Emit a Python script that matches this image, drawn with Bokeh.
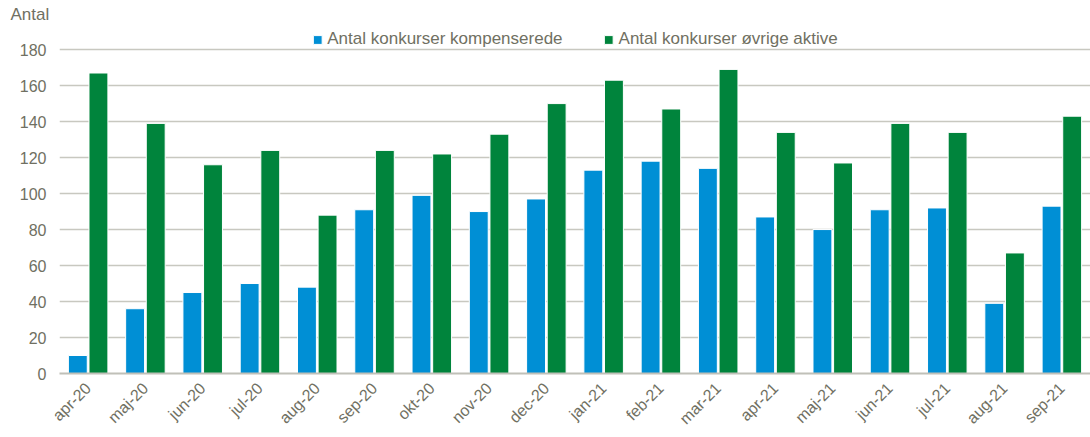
from bokeh.plotting import figure
from bokeh.models import ColumnDataSource, FactorRange, FixedTicker, Legend, LegendItem
from bokeh.transform import dodge
from bokeh.embed import file_html
from bokeh.resources import INLINE
import math

months = ["apr-20", "maj-20", "jun-20", "jul-20", "aug-20", "sep-20", "okt-20", "nov-20", "dec-20",
          "jan-21", "feb-21", "mar-21", "apr-21", "maj-21", "jun-21", "jul-21", "aug-21", "sep-21"]
kompenserede = [10, 36, 45, 50, 48, 91, 99, 90, 97, 113, 118, 114, 87, 80, 91, 92, 39, 93]
oevrige = [167, 139, 116, 124, 88, 124, 122, 133, 150, 163, 147, 169, 134, 117, 139, 134, 67, 143]
y_ticks = [0, 20, 40, 60, 80, 100, 120, 140, 160, 180]
series_names = ["Antal konkurser kompenserede", "Antal konkurser øvrige aktive"]
y_title = "Antal"

FONT = "Liberation Sans"
TXT = "#707062"
BLUE = "#008FD5"
GREEN = "#00843C"

src = ColumnDataSource(dict(m=months, a=kompenserede, b=oevrige))

p = figure(width=1090, height=437, x_range=FactorRange(*months, range_padding=0),
           y_range=(0, 193.4), output_backend="svg", toolbar_location=None,
           min_border_left=59, min_border_right=0, min_border_top=0, min_border_bottom=64)
p.outline_line_color = None
p.background_fill_color = "white"

p.title.text = y_title
p.title.align = "left"
p.title.offset = -49
p.title.text_font = FONT
p.title.text_font_size = "17px"
p.title.text_font_style = "normal"
p.title.text_color = TXT
p.title.standoff = 4

r1 = p.vbar(x=dodge("m", -0.18, range=p.x_range), top="a", width=0.33, source=src,
            fill_color=BLUE, line_color="white", line_width=1)
r2 = p.vbar(x=dodge("m", 0.18, range=p.x_range), top="b", width=0.33, source=src,
            fill_color=GREEN, line_color="white", line_width=1)

p.xgrid.grid_line_color = None
p.ygrid.grid_line_color = "#c8c8c0"
p.ygrid.grid_line_width = 1.5
p.ygrid.ticker = FixedTicker(ticks=y_ticks)

p.yaxis.ticker = FixedTicker(ticks=y_ticks)
p.yaxis.axis_line_color = None
p.yaxis.major_tick_line_color = None
p.yaxis.minor_tick_line_color = None
p.yaxis.major_tick_out = 0
p.yaxis.major_label_text_font = FONT
p.yaxis.major_label_text_font_size = "16px"
p.yaxis.major_label_text_color = TXT
p.yaxis.major_label_standoff = 13

p.xaxis.axis_line_color = "#c0c0b8"
p.xaxis.axis_line_width = 2
p.xaxis.major_tick_line_color = None
p.xaxis.minor_tick_line_color = None
p.xaxis.major_label_orientation = math.pi / 4
p.xaxis.major_label_text_font = FONT
p.xaxis.major_label_text_font_size = "16px"
p.xaxis.major_label_text_color = TXT
p.xaxis.major_label_standoff = 6

legend = Legend(items=[LegendItem(label=series_names[0], renderers=[r1]),
                       LegendItem(label=series_names[1], renderers=[r2])],
                orientation="horizontal", location="top_center",
                border_line_color=None, background_fill_alpha=0,
                label_text_font=FONT, label_text_font_size="17px", label_text_color=TXT,
                glyph_width=11, glyph_height=11, label_standoff=5, spacing=40,
                padding=0, margin=4)
p.add_layout(legend, "center")

open("out.html", "w").write(file_html(p, INLINE))
